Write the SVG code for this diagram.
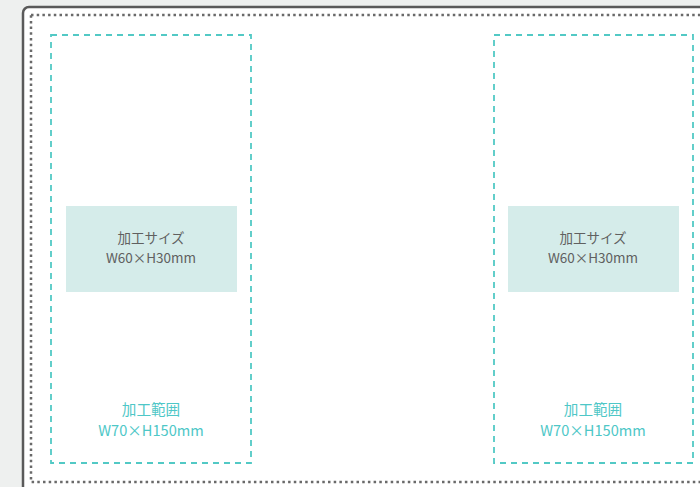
<svg xmlns="http://www.w3.org/2000/svg" width="700" height="487" viewBox="0 0 700 487">
<style>
.frame{fill:#fff;stroke:#5a5a5a;stroke-width:2.5}
.dots{fill:none;stroke:#6a6a6a;stroke-width:2.5;stroke-dasharray:2.5 3.2}
.area{fill:none;stroke:#52c9c5;stroke-width:1.8;stroke-dasharray:6 5}
.size{fill:#d5ecea}
.t1{font-family:"Noto Sans CJK JP","Noto Sans",sans-serif;font-size:13.5px;fill:#606060;text-anchor:middle}
.t2{font-family:"Noto Sans CJK JP","Noto Sans",sans-serif;font-size:14.6px;fill:#4ec7c7;text-anchor:middle}
</style>
<rect width="700" height="487" fill="#eef0ef"/>
<rect class="frame" x="23" y="7" width="700" height="500" rx="6"/>
<rect class="dots" x="31" y="15" width="700" height="467"/>
<g id="left">
<rect class="area" x="51" y="35" width="200" height="428"/>
<rect class="size" x="66" y="206" width="171" height="86"/>
<text class="t1" x="151" y="243">加工サイズ</text>
<text class="t1" x="151" y="263">W60×H30mm</text>
<text class="t2" x="151" y="415">加工範囲</text>
<text class="t2" x="151" y="436">W70×H150mm</text>
</g>
<g id="right">
<rect class="area" x="494" y="35" width="199" height="428"/>
<rect class="size" x="508" y="206" width="171" height="86"/>
<text class="t1" x="593" y="243">加工サイズ</text>
<text class="t1" x="593" y="263">W60×H30mm</text>
<text class="t2" x="593" y="415">加工範囲</text>
<text class="t2" x="593" y="436">W70×H150mm</text>
</g>
<g id="connectors"></g>
</svg>
